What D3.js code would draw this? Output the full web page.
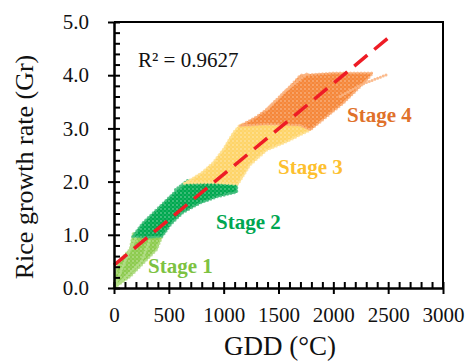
<!DOCTYPE html>
<html>
<head>
<meta charset="utf-8">
<script src="https://cdn.jsdelivr.net/npm/d3@7"></script>
<style>
  body { margin: 0; background: #fff; }
  svg text { font-family: "Liberation Serif", "Times New Roman", serif; }
</style>
</head>
<body>
<svg id="chart" width="465" height="361"></svg>
<script>
// axis ticks
const xTicks = [0, 500, 1000, 1500, 2000, 2500, 3000];
const xMinor = [100, 200, 300, 400, 600, 700, 800, 900, 1100, 1200, 1300, 1400, 1600, 1700, 1800, 1900,
  2100, 2200, 2300, 2400, 2600, 2700, 2800, 2900];
const yTicks = [0, 1, 2, 3, 4, 5];
const yMinor = [0.2, 0.4, 0.6, 0.8, 1.2, 1.4, 1.6, 1.8, 2.2, 2.4, 2.6, 2.8, 3.2, 3.4, 3.6, 3.8, 4.2, 4.4, 4.6, 4.8];

// outline of each stage's point cloud, [GDD, Gr]
const stage1 = [[0, 0], [10, 0.28], [55, 0.53], [146, 0.73], [175, 1.03], [260, 1.06], [440, 0.98], [389, 0.72],
  [283, 0.5], [150, 0.22]];
const stage2 = [[170, 0.97], [260, 1.22], [380, 1.46], [500, 1.7], [600, 1.9], [650, 1.98], [700, 2.03], [850, 2.0],
  [1000, 2.02], [1120, 1.98], [1120, 1.8], [950, 1.72], [790, 1.6], [630, 1.42], [520, 1.2], [440, 0.97], [300, 0.95]];
const stage3 = [[640, 1.97], [700, 2.04], [800, 2.17], [905, 2.36], [1000, 2.62], [1087, 2.92], [1150, 3.07], [1400, 3.12],
  [1700, 3.1], [1790, 2.97], [1575, 2.75], [1392, 2.59], [1240, 2.31], [1130, 1.95], [900, 1.98]];
const stage4 = [[1150, 3.05], [1300, 3.22], [1392, 3.36], [1544, 3.66], [1700, 4.0], [2000, 4.04], [2360, 4.04], [2300, 3.9],
  [2213, 3.72], [2089, 3.47], [1939, 3.22], [1790, 2.97], [1696, 3.06], [1392, 3.08]];

// a few visible streaks of single runs
const streaks1 = [[[0, 0], [120, 0.6], [200, 0.95]], [[0, 0], [250, 0.5], [330, 0.92]]];
const streaks2 = [[[560, 1.85], [675, 2.03]]];
const streaks4 = [[[1390, 3.35], [1560, 3.7], [1760, 4.03]], [[2060, 3.6], [2250, 3.82], [2500, 4.02]]];

// regression line end points
const regLine = [[0, 0.43], [2500, 4.7]];
const rSquared = "R² = 0.9627";

const stages = [
  { name: "Stage 1", pts: stage1, streaks: streaks1, fill: "#8dcb4e", edge: "#b4de8a", label: "#7dc242", at: [148, 273] },
  { name: "Stage 2", pts: stage2, streaks: streaks2, fill: "#00a84f", edge: "#4dc184", label: "#00a651", at: [216, 229] },
  { name: "Stage 3", pts: stage3, streaks: [], fill: "#fed468", edge: "#ffe39a", label: "#fdc02f", at: [278, 174] },
  { name: "Stage 4", pts: stage4, streaks: streaks4, fill: "#f5873a", edge: "#fbb583", label: "#e0712a", at: [347, 122] }
];

const svg = d3.select("#chart");
const x = d3.scaleLinear().domain([0, 3000]).range([114, 443]);
const y = d3.scaleLinear().domain([0, 5]).range([288, 22]);
const line = d3.line().x(d => x(d[0])).y(d => y(d[1]));

// speckle pattern standing in for the open circle markers
const pat = svg.append("defs").append("pattern")
  .attr("id", "speckle").attr("width", 4).attr("height", 4)
  .attr("patternUnits", "userSpaceOnUse");
pat.append("circle").attr("cx", 1).attr("cy", 1).attr("r", 0.9).attr("fill", "#fff").attr("opacity", 0.35);
pat.append("circle").attr("cx", 3).attr("cy", 3).attr("r", 0.7).attr("fill", "#fff").attr("opacity", 0.25);

const bands = svg.append("g");
stages.forEach(s => {
  bands.append("path")
    .attr("d", line(s.pts) + "Z")
    .attr("fill", s.fill)
    .attr("stroke", s.fill)
    .attr("stroke-width", 1);
  bands.append("path")
    .attr("d", line(s.pts) + "Z")
    .attr("fill", "url(#speckle)");
  bands.append("path")
    .attr("d", line(s.pts) + "Z")
    .attr("fill", "none")
    .attr("stroke", s.edge)
    .attr("stroke-width", 3)
    .attr("stroke-linecap", "round")
    .attr("stroke-dasharray", "0 3.5")
    .attr("opacity", 0.8);
  s.streaks.forEach(st => {
    bands.append("path")
      .attr("d", line(st))
      .attr("fill", "none")
      .attr("stroke", s.edge)
      .attr("stroke-width", 3)
      .attr("stroke-linecap", "round")
      .attr("stroke-dasharray", "0 3")
      .attr("opacity", 0.9);
  });
});

// regression
svg.append("path")
  .attr("d", line(regLine))
  .attr("fill", "none")
  .attr("stroke", "#ee1c25")
  .attr("stroke-width", 3.5)
  .attr("stroke-dasharray", "17 9");

// stage labels
stages.forEach(s => {
  svg.append("text")
    .attr("x", s.at[0]).attr("y", s.at[1])
    .attr("font-size", 21)
    .attr("font-weight", "bold")
    .attr("fill", s.label)
    .text(s.name);
});

svg.append("text")
  .attr("x", 138).attr("y", 67)
  .attr("font-size", 21)
  .attr("fill", "#111")
  .text(rSquared);

// axes
svg.append("g")
  .attr("transform", `translate(0,${y(0)})`)
  .call(d3.axisBottom(x).tickValues(xTicks).tickSize(6).tickPadding(13).tickFormat(d3.format("d")).tickSizeOuter(0));
svg.append("g")
  .attr("transform", `translate(0,${y(0)})`)
  .call(d3.axisBottom(x).tickValues(xTicks.concat(xMinor)).tickSize(-6).tickFormat("").tickSizeOuter(0));
svg.append("g")
  .attr("transform", `translate(${x(0)},0)`)
  .call(d3.axisLeft(y).tickValues(yTicks).tickSize(6).tickPadding(19).tickFormat(d3.format(".1f")).tickSizeOuter(0));
svg.append("g")
  .attr("transform", `translate(${x(0)},0)`)
  .call(d3.axisLeft(y).tickValues(yTicks.concat(yMinor)).tickSize(-6).tickFormat("").tickSizeOuter(0));

svg.selectAll(".domain, .tick line").attr("stroke", "#000").attr("stroke-width", 2);
svg.selectAll(".tick text").attr("font-size", 21).attr("fill", "#111")
  .attr("font-family", "'Liberation Serif', 'Times New Roman', serif");

// top and right border
svg.append("path")
  .attr("d", line([[0, 5], [3000, 5], [3000, 0]]))
  .attr("fill", "none")
  .attr("stroke", "#000")
  .attr("stroke-width", 2);

// axis titles
svg.append("text")
  .attr("x", 280).attr("y", 355)
  .attr("text-anchor", "middle")
  .attr("font-size", 27)
  .attr("fill", "#111")
  .text("GDD (°C)");
svg.append("text")
  .attr("transform", "translate(33,167) rotate(-90)")
  .attr("text-anchor", "middle")
  .attr("font-size", 26)
  .attr("fill", "#111")
  .text("Rice growth rate (Gr)");
</script>
</body>
</html>
